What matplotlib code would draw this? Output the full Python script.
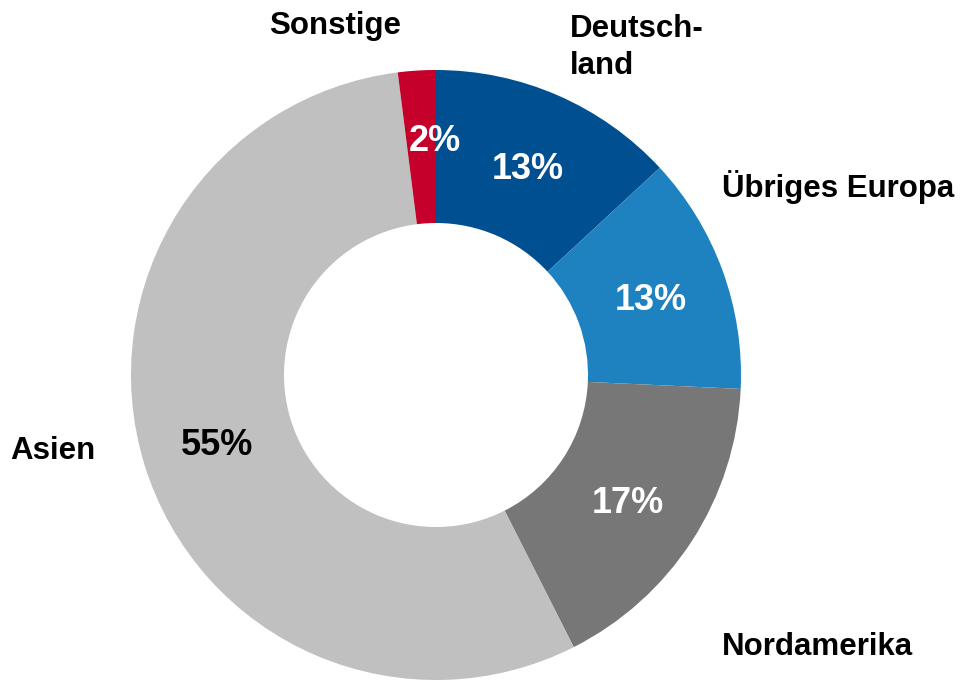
import matplotlib
matplotlib.use("Agg")
import matplotlib.pyplot as plt
import numpy as np

categories = ["Deutschland", "Übriges Europa", "Nordamerika", "Asien", "Sonstige"]
values = [13.1, 12.6, 16.8, 55.4, 2.0]
pct_labels = ["13%", "13%", "17%", "55%", "2%"]
colors = ["#004f91", "#1f82c0", "#777777", "#c0c0c0", "#c4002b"]
pct_colors = ["white", "white", "white", "black", "white"]

plt.rcParams['font.family'] = ['Liberation Sans', 'DejaVu Sans']

W, H = 963, 680
fig = plt.figure(figsize=(W / 100, H / 100), dpi=100)
ax = fig.add_axes([0, 0, 1, 1])

cx, cy, R = 436, H - 375, 305
wedges, _ = ax.pie(values, colors=colors, startangle=90, counterclock=False,
                   center=(cx, cy), radius=R, frame=True,
                   wedgeprops=dict(width=R - 152, linewidth=0))
ax.set_xlim(0, W)
ax.set_ylim(0, H)
ax.set_aspect('equal')
ax.axis('off')

dy = -4
start = 90.0
total = sum(values)
for v, lab, c in zip(values, pct_labels, pct_colors):
    ang = start - v / total * 360 / 2
    start -= v / total * 360
    r = 0.75 * R
    if lab == "2%":
        ang = 90.2
        r = 0.78 * R
    x = cx + r * np.cos(np.radians(ang))
    y = cy + r * np.sin(np.radians(ang)) + dy
    ax.text(x, y, lab, color=c, fontsize=26, fontweight='bold', ha='center', va='center')

lab_kw = dict(fontsize=22.5, fontweight='bold', color='black')
ax.text(335, H - 22 + dy, "Sonstige", ha='center', va='center', **lab_kw)
ax.text(570, H - 25 + dy, "Deutsch-", ha='left', va='center', **lab_kw)
ax.text(570, H - 62 + dy, "land", ha='left', va='center', **lab_kw)
ax.text(722, H - 183 + dy, "Übriges Europa", ha='left', va='center', **lab_kw)
ax.text(722, H - 643 + dy, "Nordamerika", ha='left', va='center', **lab_kw)
ax.text(10, H - 447 + dy, "Asien", ha='left', va='center', **lab_kw)

fig.savefig("out.png", dpi=100)
